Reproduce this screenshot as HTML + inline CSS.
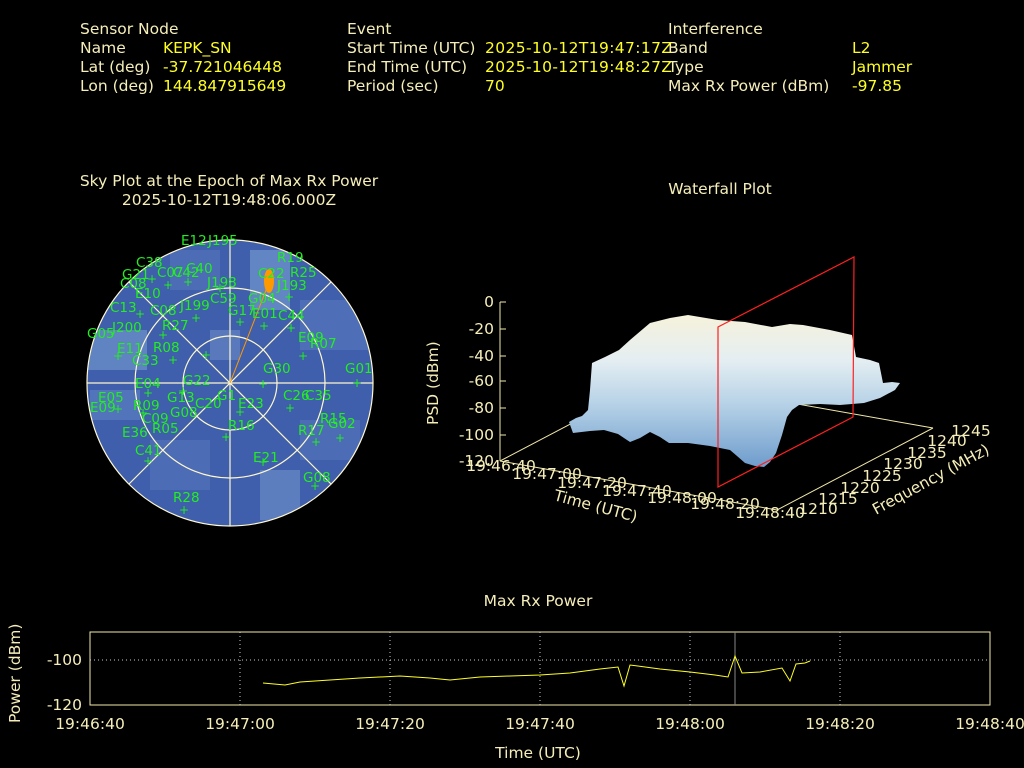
<!DOCTYPE html>
<html><head><meta charset="utf-8"><style>
body{margin:0;background:#000;width:1024px;height:768px;overflow:hidden}
svg{display:block}
text{font-family:"DejaVu Sans","Liberation Sans",sans-serif}
</style></head><body>
<svg width="1024" height="768" viewBox="0 0 1024 768">
<defs>
<clipPath id="sky"><circle cx="230" cy="383" r="143"/></clipPath>
<linearGradient id="surf" x1="0" y1="0" x2="0" y2="1">
<stop offset="0" stop-color="#f6f2dc"/><stop offset="0.3" stop-color="#e4eef2"/><stop offset="0.6" stop-color="#b4d0e6"/><stop offset="1" stop-color="#6e9ccc"/></linearGradient>
</defs>
<!-- header -->
<g font-size="15.5" fill="#f5eeb8">
<text x="80" y="34">Sensor Node</text><text x="80" y="53">Name</text><text x="80" y="72">Lat (deg)</text><text x="80" y="91">Lon (deg)</text>
<text x="347" y="34">Event</text><text x="347" y="53">Start Time (UTC)</text><text x="347" y="72">End Time (UTC)</text><text x="347" y="91">Period (sec)</text>
<text x="668" y="34">Interference</text><text x="668" y="53">Band</text><text x="668" y="72">Type</text><text x="668" y="91">Max Rx Power (dBm)</text>
</g>
<g font-size="15.5" fill="#ffff22">
<text x="163" y="53">KEPK_SN</text><text x="163" y="72">-37.721046448</text><text x="163" y="91">144.847915649</text>
<text x="485" y="53" textLength="187">2025-10-12T19:47:17Z</text><text x="485" y="72" textLength="187">2025-10-12T19:48:27Z</text><text x="485" y="91">70</text>
<text x="852" y="53">L2</text><text x="852" y="72">Jammer</text><text x="852" y="91">-97.85</text>
</g>
<g font-size="15.5" fill="#f5eeb8" text-anchor="middle">
<text x="229" y="186">Sky Plot at the Epoch of Max Rx Power</text>
<text x="229" y="205">2025-10-12T19:48:06.000Z</text>
<text x="720" y="194">Waterfall Plot</text>
<text x="538" y="606">Max Rx Power</text>
</g>
<!-- sky plot -->
<g clip-path="url(#sky)">
<rect x="80" y="230" width="300" height="300" fill="#3f5eab"/>
<rect x="87" y="330" width="60" height="40" fill="#6f93cc" opacity="0.7"/>
<rect x="250" y="250" width="40" height="60" fill="#7aa0d6" opacity="0.6"/>
<rect x="260" y="470" width="40" height="50" fill="#6f93cc" opacity="0.6"/>
<rect x="90" y="390" width="50" height="30" fill="#5a7ec0" opacity="0.7"/>
<rect x="300" y="300" width="70" height="50" fill="#5576bd" opacity="0.7"/>
<rect x="150" y="440" width="60" height="50" fill="#5576bd" opacity="0.6"/>
<rect x="210" y="330" width="30" height="30" fill="#6a8cc8" opacity="0.6"/>
<rect x="300" y="420" width="60" height="40" fill="#5576bd" opacity="0.6"/>
<rect x="170" y="250" width="50" height="40" fill="#5576bd" opacity="0.6"/>
</g>
<g stroke="#fff8d0" fill="none" stroke-width="1.2">
<circle cx="230" cy="383" r="143"/><circle cx="230" cy="383" r="95"/><circle cx="230" cy="383" r="47"/>
<line x1="87" y1="383" x2="373" y2="383"/><line x1="230" y1="240" x2="230" y2="526"/>
<line x1="129" y1="282" x2="331" y2="484"/><line x1="331" y1="282" x2="129" y2="484"/>
</g>
<line x1="230" y1="383" x2="268" y2="285" stroke="#ff9900"/>
<ellipse cx="269" cy="281" rx="5" ry="12" fill="#ff9900"/>
<g font-size="13.5" fill="#22ee22">
<text x="181" y="245">E12</text><text x="208" y="245">J195</text><text x="277" y="262">R19</text><text x="290" y="277">R25</text>
<text x="258" y="278">C22</text><text x="277" y="290">J193</text><text x="136" y="267">C38</text><text x="122" y="279">G21</text>
<text x="157" y="277">C07</text><text x="173" y="277">C42</text><text x="186" y="273">C40</text><text x="120" y="288">C08</text>
<text x="135" y="298">E10</text><text x="207" y="287">J198</text><text x="210" y="303">C59</text><text x="248" y="303">G04</text>
<text x="228" y="315">G17</text><text x="252" y="318">E01</text><text x="278" y="320">C44</text><text x="110" y="312">C13</text>
<text x="150" y="315">C08</text><text x="180" y="310">J199</text><text x="162" y="330">R27</text><text x="112" y="332">J200</text>
<text x="87" y="338">G05</text><text x="298" y="342">E09</text><text x="310" y="348">R07</text><text x="153" y="352">R08</text>
<text x="117" y="353">E11</text><text x="132" y="365">C33</text><text x="263" y="373">G30</text><text x="345" y="373">G01</text>
<text x="183" y="385">G22</text><text x="135" y="388">E04</text><text x="98" y="402">E05</text><text x="167" y="402">G13</text>
<text x="217" y="400">G1</text><text x="195" y="408">C20</text><text x="238" y="408">E23</text><text x="283" y="400">C26</text>
<text x="305" y="400">C35</text><text x="90" y="412">E09</text><text x="133" y="410">R09</text><text x="170" y="417">G08</text>
<text x="142" y="423">C09</text><text x="320" y="423">R15</text><text x="328" y="428">G02</text><text x="228" y="430">R16</text>
<text x="298" y="435">R17</text><text x="122" y="437">E36</text><text x="152" y="433">R05</text><text x="135" y="455">C41</text>
<text x="253" y="462">E21</text><text x="303" y="482">G08</text><text x="173" y="502">R28</text>
</g>
<g font-size="12" fill="#22ee22" text-anchor="middle">
<text x="357" y="387">+</text><text x="263" y="388">+</text><text x="183" y="395">+</text><text x="263" y="466">+</text><text x="315" y="490">+</text>
<text x="184" y="514">+</text><text x="148" y="465">+</text><text x="240" y="416">+</text><text x="226" y="441">+</text><text x="316" y="446">+</text>
<text x="340" y="442">+</text><text x="290" y="412">+</text><text x="148" y="397">+</text><text x="143" y="417">+</text><text x="118" y="413">+</text>
<text x="173" y="364">+</text><text x="163" y="339">+</text><text x="196" y="322">+</text><text x="240" y="326">+</text><text x="264" y="330">+</text>
<text x="291" y="332">+</text><text x="303" y="360">+</text><text x="140" y="318">+</text><text x="118" y="360">+</text><text x="206" y="359">+</text>
<text x="168" y="289">+</text><text x="188" y="286">+</text><text x="152" y="283">+</text><text x="289" y="301">+</text><text x="220" y="292">+</text>
</g>
<!-- waterfall -->
<g stroke="#f0e8a8" fill="none" stroke-width="1">
<line x1="500" y1="302" x2="500" y2="461"/>
<line x1="500" y1="461" x2="777" y2="510"/>
<line x1="777" y1="510" x2="933" y2="428"/>
<line x1="500" y1="461" x2="656" y2="379"/>
<line x1="656" y1="379" x2="933" y2="428"/>
<path d="M500,302h6M500,329h6M500,356h6M500,381h6M500,408h6M500,435h6"/>
</g>
<polygon points="569,422 576,418 582,416 588,410 590,390 592,363 605,357 619,350 630,340 650,323 670,318 688,315 718,320 745,322 772,327 790,324 803,325 830,330 852,335 856,357 870,360 879,363 883,383 892,382 900,383 895,390 880,398 864,403 840,405 820,404 799,405 792,410 787,417 782,435 776,453 770,462 764,467 755,466 745,463 737,456 730,450 710,446 688,443 669,443 660,437 650,432 640,438 630,442 618,434 604,430 590,431 573,433" fill="url(#surf)"/>
<polygon points="718,487 718,327 854,257 853,417" fill="none" stroke="#ff2020" stroke-width="1.2"/>
<g font-size="15.5" fill="#f5eeb8">
<g text-anchor="end"><text x="494" y="307">0</text><text x="494" y="334">-20</text><text x="494" y="361">-40</text><text x="494" y="386">-60</text><text x="494" y="413">-80</text><text x="494" y="440">-100</text><text x="494" y="466">-120</text></g>
<g text-anchor="middle"><text x="501" y="471">19:46:40</text><text x="547" y="479">19:47:00</text><text x="592" y="488">19:47:20</text><text x="637" y="496">19:47:40</text><text x="682" y="503">19:48:00</text><text x="725" y="509">19:48:20</text><text x="770" y="518">19:48:40</text>
<text x="818" y="514">1210</text><text x="838" y="504">1215</text><text x="860" y="493">1220</text><text x="882" y="481">1225</text><text x="903" y="469">1230</text><text x="927" y="458">1235</text><text x="947" y="446">1240</text><text x="971" y="436">1245</text></g>
<text transform="translate(553,500) rotate(15)">Time (UTC)</text>
<text transform="translate(876,515) rotate(-28.5)">Frequency (MHz)</text>
<text transform="translate(438,425) rotate(-90)">PSD (dBm)</text>
</g>
<!-- bottom chart -->
<rect x="90" y="632" width="900" height="73" fill="none" stroke="#f0e8a8"/>
<g stroke="#cccccc" stroke-dasharray="1,3" stroke-width="1">
<line x1="90" y1="660" x2="990" y2="660"/>
<line x1="240" y1="632" x2="240" y2="705"/><line x1="390" y1="632" x2="390" y2="705"/><line x1="540" y1="632" x2="540" y2="705"/><line x1="690" y1="632" x2="690" y2="705"/><line x1="840" y1="632" x2="840" y2="705"/>
</g>
<line x1="735" y1="632" x2="735" y2="705" stroke="#888"/>
<polyline fill="none" stroke="#ffff22" stroke-width="1" points="263,683 285,685 300,682 330,680 360,678 400,676 430,678 450,680 480,677 510,676 540,675 570,673 600,669 618,667 624,686 630,665 660,669 690,672 715,675 728,677 735,656 742,673 760,672 782,668 790,681 796,664 805,663 810,661"/>
<g font-size="15.5" fill="#f5eeb8">
<text x="82" y="665" text-anchor="end">-100</text><text x="82" y="710" text-anchor="end">-120</text>
<g text-anchor="middle"><text x="90" y="729">19:46:40</text><text x="240" y="729">19:47:00</text><text x="390" y="729">19:47:20</text><text x="540" y="729">19:47:40</text><text x="690" y="729">19:48:00</text><text x="840" y="729">19:48:20</text><text x="990" y="729">19:48:40</text>
<text x="538" y="758">Time (UTC)</text></g>
<text transform="translate(20,723) rotate(-90)">Power (dBm)</text>
</g>
</svg>
</body></html>
